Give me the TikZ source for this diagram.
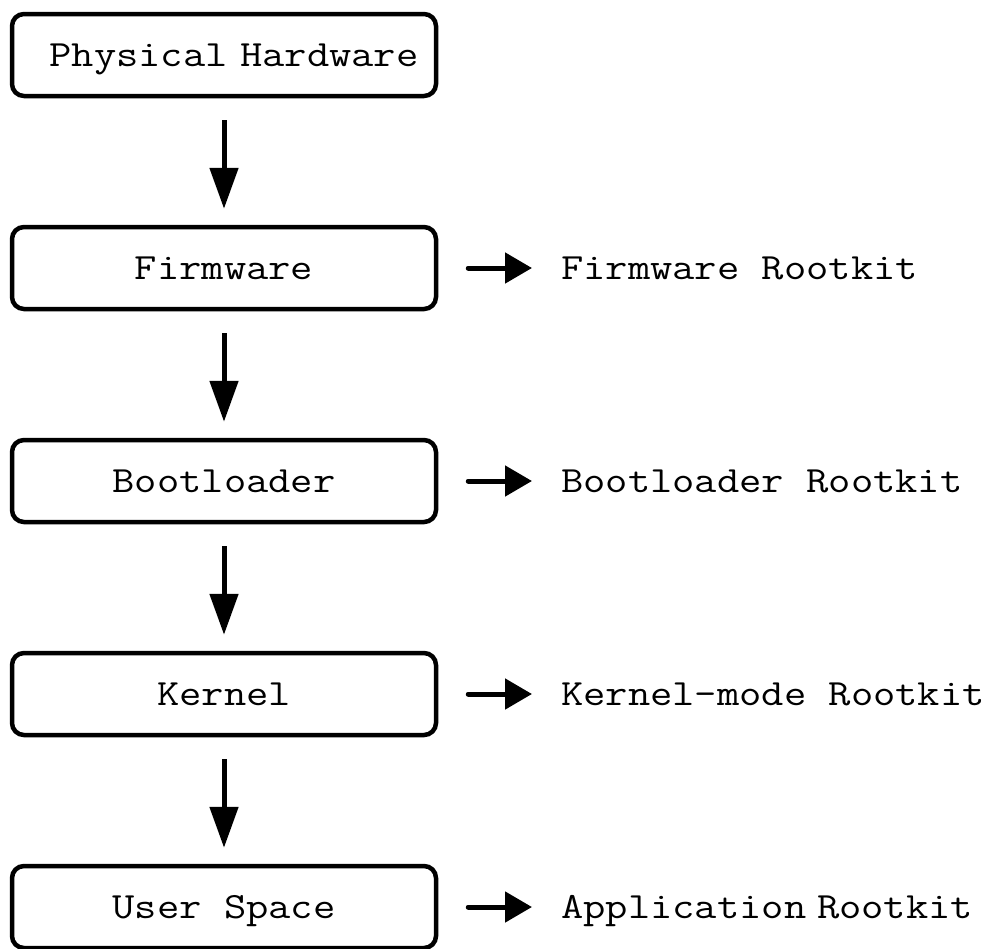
\documentclass[tikz,border=0pt]{standalone}
\usepackage{fontspec}
\usepackage{graphicx}
\usetikzlibrary{arrows.meta}
\newcommand{\courfont}{\ttfamily\fontsize{37}{40}\selectfont}
\newcommand{\sx}[1]{\scalebox{1.17}[1]{#1}}
\begin{document}
\begin{tikzpicture}[x=1pt,y=-1pt,
  box/.style={draw, line width=4.5pt, rounded corners=12pt, minimum width=424pt, minimum height=82pt, inner sep=0pt, text height=22pt, text depth=0pt, font=\courfont},
  lbl/.style={anchor=west, inner sep=0pt, text height=22pt, text depth=0pt, font=\courfont},
  down/.style={line width=5pt, -{Triangle[length=41pt,width=28pt]}, shorten <=22pt, shorten >=16pt},
  side/.style={line width=5pt, line cap=round, -{Triangle[length=27pt,width=30pt]}, shorten <=30pt, shorten >=29pt}]
\useasboundingbox (0,0) rectangle (987,948);
\fill[white] (0,0) rectangle (987,948);
\node[box] (hw) at (224,55) {\hspace*{20pt}\sx{Physical\hspace{-8.5pt} Hardware}};
\node[box] (fw) at (224,268) {\sx{Firmware}};
\node[box] (bl) at (224,481) {\sx{Bootloader}};
\node[box] (kn) at (224,694) {\sx{Kernel}};
\node[box] (us) at (224,907) {\sx{User Space}};
\node[lbl] (fwr) at (561,268) {\sx{Firmware Rootkit}};
\node[lbl] (blr) at (561,481) {\sx{Bootloader Rootkit}};
\node[lbl] (knr) at (561,694) {\sx{Kernel-mode Rootkit}};
\node[lbl] (usr) at (561,907) {\sx{Application\hspace{-10pt} Rootkit}};
\draw[down] (hw) -- (fw);
\draw[down] (fw) -- (bl);
\draw[down] (bl) -- (kn);
\draw[down] (kn) -- (us);
\draw[side] (fw.east) -- (fwr.west);
\draw[side] (bl.east) -- (blr.west);
\draw[side] (kn.east) -- (knr.west);
\draw[side] (us.east) -- (usr.west);
\end{tikzpicture}
\end{document}
